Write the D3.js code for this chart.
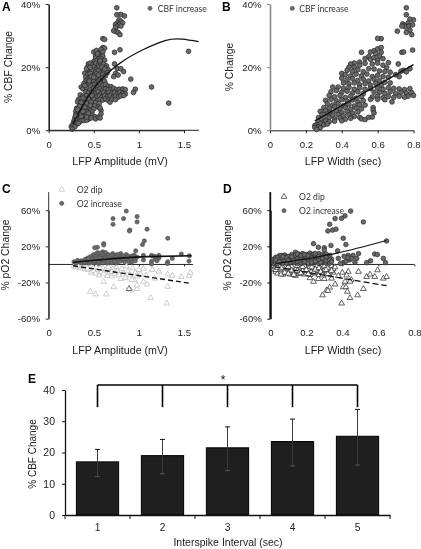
<!DOCTYPE html>
<html><head><meta charset="utf-8">
<style>
html,body{margin:0;padding:0;background:#fff}
svg{display:block;filter:blur(.35px)}
text{font-family:"Liberation Sans",Arial,sans-serif;fill:#222}
.leg{font-family:Lato,"Open Sans",sans-serif;font-size:8.6px;fill:#333}
.pl{font-weight:bold;font-size:12px;fill:#000}
</style></head><body>
<svg id="c" width="421" height="549"></svg>
<script src="https://cdn.jsdelivr.net/npm/d3@7/dist/d3.min.js"></script>
<script>
// ---------- values ----------
const cbfAmplitude=[[1.55,25],[1.33,8.6],[1.14,13.7],[.96,13],[.94,12],[.91,16.2],[.83,18.6],[.79,25.5],[.73,24.7],[.73,21],[.76,19.5],[.8,19.5],[.74,18],[.72,17],[.77,17.5],[.6,29],[.62,28.8],
[.755,38.8],[.755,36.6],[.8,36.7],[.84,36.2],[.78,35],[.8,34.5],[.82,34],[.76,34],[.78,33.5],[.74,33.5],[.76,33],[.8,33],[.74,32.5],[.72,31.5],[.75,31.2],[.77,31],[.79,30.3],
[.6,26.2],[.62,26],[.5,24.8],[.53,25.3],[.56,24.6],[.58,25.6],[.6,24.8],[.52,23.6],[.55,24],[.57,23.2],[.6,23.5],[.52,22.9],[.55,22.5],[.58,22.7],[.5,21.8],[.53,22],[.56,21.5],[.59,21.9],[.62,22.2],[.44,21],[.46,21.3],[.49,20.7],[.52,21.1],[.55,20.6],[.58,20.9],[.61,21],[.64,20.4],[.43,20],[.46,19.6],[.5,20.1],[.53,19.4],[.56,20],[.6,19.5],[.63,19.8],[.66,19.2],[.45,18.8],[.48,19.1],[.52,18.5],[.55,18.9],[.58,18.2],[.61,18.7],[.65,18.3],[.4,18.1],[.43,17.6],[.46,18],[.5,17.4],[.53,17.9],[.56,17.2],[.6,17.7],[.63,17.3],[.41,16.8],[.44,16.4],[.47,17],[.51,16.3],[.54,16.8],[.57,16.1],[.6,16.6],[.41,15.6],[.44,15.9],[.47,15.2],[.5,15.7],[.53,15.1],[.56,15.6],[.59,15],[.62,15.5],[.39,14.8],[.42,14.4],[.45,14.9],[.48,14.2],[.51,14.6],[.54,14.1],[.57,14.7],[.6,14.3],[.63,14.5],[.66,14],[.69,13.8],[.36,13.7],
[.38,13.1],[.42,13.4],[.46,12.9],[.5,13.3],[.54,12.8],[.57,13.2],[.6,12.7],[.63,13.1],[.66,12.9],[.69,13],[.72,13.3],[.75,12.8],[.78,13],[.82,13.1],[.85,12.9],[.41,12.2],[.44,11.8],[.48,12.1],[.52,11.7],[.55,12.2],[.58,11.6],[.61,12],[.64,11.5],[.67,12.1],[.7,11.7],[.73,12],[.76,11.6],[.79,12.1],[.82,11.7],[.85,11.5],[.35,11.2],[.38,10.8],[.42,11],[.45,10.6],[.49,11.1],[.53,10.5],[.56,10.9],[.59,10.4],[.62,11],[.65,10.6],[.68,10.9],[.71,10.4],[.74,10.8],[.77,10.5],[.8,10.9],[.83,11],[.33,9.8],[.36,10.1],[.39,9.6],[.42,9.9],[.46,9.5],[.5,9.9],[.54,9.4],[.57,9.8],[.6,9.6],[.63,9.9],[.66,9.5],[.7,9.8],[.74,9.7],[.68,8.9],
[.32,9],[.35,8.7],[.38,9.1],[.41,8.5],[.44,8.9],[.48,8.4],[.52,8.8],[.56,8.5],[.35,7.8],[.38,8],[.41,7.5],[.44,7.9],[.47,7.4],[.51,7.7],[.55,7.3],[.31,7],[.34,6.7],[.37,7.1],[.4,6.5],[.43,6.9],[.46,6.4],[.5,6.8],[.3,6],[.33,5.8],[.36,6.1],[.39,5.5],[.42,5.9],[.45,5.4],[.48,5.8],[.58,6.3],[.57,7.1],[.3,5],[.33,4.7],[.36,5.1],[.39,4.5],[.42,4.9],[.45,4.4],[.48,4.8],[.51,4.3],[.58,5.2],[.29,4],[.32,3.8],[.35,4.1],[.38,3.6],[.41,3.9],[.44,3.5],[.47,3.9],[.52,3.6],[.55,4.2],[.57,3.9],[.28,3],[.31,3.2],[.34,2.8],[.36,3],[.39,3.1],[.42,3.2],[.27,2.1],[.29,2.4],[.31,2],[.33,2.2],[.25,1.2],[.27,1.3],[.29,1.1],[.26,.4],
[.42,19.5],[.46,19.9],[.54,24.2],[.57,22],[.59,20],[.62,19.4],[.55,17.5],[.5,16.8],[.45,15.6],[.4,14.2],[.48,11],[.38,10.2],[.44,9.9],[.36,8.8],[.42,8.6],[.47,8.9],[.34,7.6],[.4,7.3],[.46,7.9],[.32,6.6],[.38,6],[.44,5.4],[.3,4.6],[.36,4.4],[.42,4.2]];
const cbfCurve=[[.27,2],[.5,13.3],[.787,21.2],[1.05,25.6],[1.3,28.5],[1.48,28.9],[1.663,28.1]];

const cbfWidth=[[.76,38.8],[.76,36.6],[.8,35],[.78,35.2],[.77,34],[.74,33.7],[.75,33.2],[.755,32.7],[.775,33],[.795,33.4],[.78,31.7],[.735,33],[.71,31.4],[.76,31],[.79,30.3],[.795,25.4],[.735,24.7],[.745,24.8],[.715,21],[.745,19],[.72,17],[.76,18.5],[.73,18.7],[.78,19.5],[.66,21.4],[.62,29],[.6,29.1],
[.51,24.7],[.55,23.3],[.56,24.8],[.58,25.2],[.6,25.8],[.62,26.2],[.59,24.3],[.62,24.7],[.61,23.5],[.53,22.7],[.56,22.5],[.58,23],[.6,22.2],[.63,22.7],[.5,21.6],[.47,21.3],[.45,21],[.44,20],[.47,20],[.5,20.6],[.53,21.2],[.57,21],[.6,21.3],[.63,20.6],[.65,19.8],[.43,19],[.46,18.7],[.49,19.2],[.52,18.6],[.55,19.5],[.58,19.4],[.61,18.8],[.64,18.6],[.67,18.4],[.7,17.6],[.4,18],[.42,17.6],[.45,17.2],[.48,17.8],[.51,17.2],[.54,17.8],[.57,17],[.6,17.4],[.63,17],[.66,16.8],[.4,16.5],[.43,16],[.46,16.4],[.49,15.8],[.52,16.2],[.55,15.6],[.58,16.2],[.61,15.7],[.64,15.2],[.67,15],[.35,13.7],[.41,15],[.44,14.7],[.47,15],[.5,14.4],[.53,14.8],[.56,14.3],[.59,14.9],[.62,14.2],[.38,13.7],[.41,13.3],[.44,13.6],[.47,13],[.5,13.5],[.53,13],[.56,13.2],[.6,13.4],[.63,13],[.66,13.5],[.69,13.3],[.72,13.1],[.75,12.9],[.78,13.2],
[.34,12.2],[.37,12.6],[.4,12],[.43,12.4],[.46,11.8],[.49,12.2],[.52,11.6],[.58,12.1],[.61,12],[.64,11.7],[.67,12.2],[.7,11.7],[.73,12],[.76,11.8],[.79,11.9],[.8,11],[.77,10.8],[.33,11],[.36,10.6],[.39,11],[.42,10.4],[.45,10.8],[.48,10.2],[.51,10.6],[.57,10.5],[.6,10.8],[.63,10.3],[.66,10.7],[.69,10.4],[.72,10.8],[.75,10.5],[.31,9.5],[.34,9.8],[.37,9.3],[.4,9.7],[.43,9.2],[.46,9.6],[.49,9],[.52,9.4],[.56,9.8],[.6,9.8],[.64,9.7],[.68,9],[.32,8.4],[.35,8],[.38,8.4],[.41,7.8],[.44,8.2],[.47,7.7],[.5,8.1],[.53,8],[.3,7.2],[.33,7],[.36,7.4],[.39,6.8],[.42,7.2],[.45,6.6],[.48,7],[.51,6.8],[.28,6],[.31,6.2],[.34,5.8],[.37,6.1],[.4,5.6],[.43,6],[.46,5.4],[.49,5.8],[.575,7.2],[.575,6.4],[.58,5.5],[.29,5],[.32,5.2],[.35,4.8],[.38,5],[.41,4.6],[.44,4.9],[.47,4.4],[.5,4.1],[.51,3.6],[.53,3.4],[.55,4.1],[.57,4.2],[.27,4],[.3,3.8],[.33,4.1],[.36,3.6],[.39,3.9],[.42,3.5],[.45,3.8],[.27,2.8],[.29,2.5],[.31,3],[.33,2.7],[.36,2.9],[.4,3],[.26,1.8],[.28,2.1],[.3,1.7],[.32,2],[.25,1.5],[.25,.9],[.27,1.1],[.28,.8],[.26,.3]];
const cbfWidthFit=[[.25,3],[.8,20.8]];

const o2IncAmplitude=[[.713,50.7],[.713,44.4],[.83,50.7],[.86,59],[.98,53],[.98,47],[.9,38],[.895,37],[1.09,39],[1.06,26],[1.04,22],[1.32,29],[.61,23],[.61,21.5],[.54,19],[.51,18.5],[.965,15],[1.47,11.5],[1.56,9.6],[1.555,3.7],[1.32,3],[1.315,1],[1.37,6.7],[1.22,10],[1.22,7],[1.2,4],[1.14,10],[1.14,3.5],[1.18,6],[1.05,10],[1.05,5],[1.14,.5],[1.22,8.5],[1.17,9],
[.28,3],[.3,1.5],[.32,4.5],[.34,2.5],[.36,4],[.37,1.5],[.39,3.5],[.4,5.5],[.42,2],[.43,7],[.44,4],[.45,1.5],[.46,8.5],[.47,5.5],[.48,3],[.49,10],[.5,7],[.5,2],[.52,11],[.52,5],[.53,8.5],[.54,13],[.54,3],[.55,10.5],[.56,6],[.57,12.5],[.57,1.5],[.58,9],[.59,4],[.6,14],[.6,7],[.62,10],[.62,2.5],[.64,8],[.65,4.5],[.66,11],[.68,6.5],[.7,2],[.71,12],[.72,9],[.74,5],[.75,10.5],[.76,2.5],[.78,8],[.8,12],[.8,5],[.82,9.5],[.84,3],[.85,7],[.86,11],[.88,5],[.9,9],[.92,2.5],[.94,6.5],[.95,10],[.98,8],[.5,11],[.55,1],[.63,13],[.68,9.5],[.74,1.5],[.58,5.5],[.46,3.5],[.4,2.5],[.33,3.5],[.65,1.5],[.72,6],[.6,11.5],[.56,8.5],[.48,6],[.52,9],[.44,6],
[.51,4],[.53,6.5],[.55,3.5],[.57,8],[.59,11],[.61,5],[.63,7],[.66,3],[.67,8.5],[.69,4],[.7,10],[.73,3],[.76,6],[.77,11],[.79,3.5],[.81,7],[.83,5.5],[.87,8.5],[.89,3],[.91,7],[.93,9.5],[.96,4],[.74,8]];
const o2DipAmplitude=[[.46,-30],[.52,-33],[.64,-33],[.72,-25],[.98,-27],[.98,-23],[1.13,-37],[1.31,-43],[1.32,-24.5],[1.09,-22],[1.05,-19],[.61,-19],[1.22,-8],[1.15,-6],[1.05,-4.5],[1.32,-11],[1.37,-12.6],[1.47,-13.7],[1.555,-12.6],[1.57,-9],[1.175,-15.5],[1.08,-12],[.95,-17],[.91,-28.5],
[.28,-2],[.3,-3],[.33,-1.5],[.35,-4],[.37,-2.5],[.4,-5],[.42,-3],[.44,-6],[.46,-1.5],[.47,-9],[.49,-4.5],[.5,-7],[.52,-10],[.53,-3],[.55,-6],[.56,-12],[.58,-8.5],[.6,-4],[.61,-10],[.63,-6.5],[.65,-12.5],[.66,-2.5],[.68,-9],[.7,-13],[.71,-5],[.73,-10.5],[.75,-3],[.76,-7.5],[.78,-12],[.8,-16],[.81,-5],[.83,-10],[.85,-15],[.86,-2],[.88,-7.5],[.9,-12],[.92,-17],[.93,-4],[.96,-9],[.98,-13],[1,-6],[1.02,-11],[.7,-8],[.57,-4],[.43,-4.5]];
const o2DipDark=[[.89,-27]];
const o2IncAmpFit=[[.27,2.2],[.5,4.6],[.8,7],[1.1,8.6],[1.58,9.6]];
const o2DipAmpFit=[[.27,-1.5],[1.58,-21]];

const o2IncWidth=[[.446,59],[.517,47],[.415,53.7],[.396,51],[.36,50.7],[.33,44.4],[.32,37],[.346,38],[.365,39],[.405,29],[.42,22],[.337,21],[.24,23],[.267,19],[.3,18.5],[.3,16],[.646,26],[.58,11.5],[.595,11],[.628,6.7],[.64,2],[.557,4],[.535,2],[.49,12],[.46,10],[.433,10],[.44,5],[.405,2],[.378,6.7],[.374,15],[.48,6.7],[.45,6.7],[.42,3.5],[.39,1],[.47,2.5],[.43,7.5],[.41,9],
[.02,1],[.02,3.5],[.02,6],[.03,2],[.03,8],[.04,4.5],[.04,1],[.05,6.5],[.05,9.5],[.06,3],[.06,7],[.07,1.5],[.07,5],[.08,10.5],[.08,8],[.09,3.5],[.1,6.5],[.1,1],[.11,9],[.11,4.5],[.12,11],[.12,2.5],[.13,7.5],[.14,13.5],[.14,5],[.15,1],[.15,9.5],[.16,11.5],[.16,3.5],[.17,7],[.18,12],[.18,1.5],[.19,9],[.19,5],[.2,11],[.2,3],[.21,7],[.22,12.5],[.22,1],[.23,9.5],[.23,5],[.24,11.5],[.24,2.5],[.25,7.5],[.26,10],[.26,4],[.27,12],[.27,1],[.28,8.5],[.28,5.5],[.29,11],[.29,3],[.3,9.5],[.3,6],[.31,1.5],[.31,11.5],[.32,8],[.32,4],[.33,10],[.33,1.5],[.34,6],[.04,7.5],[.06,10],[.08,5],[.1,9],[.12,6],[.13,2],[.14,10.5],[.16,8.5],[.17,2],[.18,6],[.2,8],[.21,4],[.22,9.5],[.24,6.5],[.25,10],[.26,7],[.28,2],[.09,7.5],[.11,2],[.15,6],
[.03,5],[.05,3],[.07,8.5],[.09,1.5],[.1,4.5],[.12,8.5],[.13,4],[.15,3.5],[.15,11.5],[.17,9.5],[.17,5],[.19,11],[.19,3],[.21,9.5],[.21,1.5],[.23,7],[.23,2.5],[.25,3.5],[.25,12],[.27,6],[.27,9],[.29,7],[.31,4],[.31,8.5],[.33,5],[.34,3]];
const o2DipWidth=[[.29,-34],[.313,-28.5],[.33,-25.5],[.36,-22],[.396,-43],[.405,-25],[.42,-25],[.428,-30],[.443,-37],[.485,-34],[.517,-27],[.45,-17],[.443,-19],[.415,-19],[.24,-19],[.267,-16],[.3,-16],[.34,-15.5],[.535,-13.7],[.554,-11],[.58,-13.7],[.596,-6.3],[.628,-15.5],[.646,-13.7],[.49,-8],[.433,-8],[.424,-12],[.378,-12.6],[.22,-15],[.32,-29],[.4,-9],[.35,-9],
[.02,-1.5],[.02,-5],[.03,-8],[.03,-3],[.04,-10],[.05,-5.5],[.05,-1.5],[.06,-8.5],[.07,-3.5],[.07,-11],[.08,-6.5],[.09,-9.5],[.09,-2],[.1,-5],[.11,-11],[.11,-7.5],[.12,-3],[.13,-9],[.14,-5.5],[.14,-12.5],[.15,-1.5],[.16,-8],[.16,-10.5],[.17,-4],[.18,-7],[.19,-11],[.19,-2],[.2,-9],[.21,-5.5],[.22,-11.5],[.22,-2.5],[.23,-7.5],[.24,-4],[.25,-10],[.26,-1.5],[.26,-7],[.27,-11.5],[.28,-4.5],[.29,-9],[.3,-2],[.3,-6.5],[.31,-11],[.32,-4],[.33,-8.5],[.34,-1.5],[.35,-5],[.36,-3],
[.03,-6],[.04,-3.5],[.06,-11],[.06,-4],[.08,-9],[.1,-2.5],[.1,-10],[.12,-6.5],[.13,-11.5],[.15,-7],[.17,-9.5],[.18,-2.5],[.2,-6],[.21,-10.5],[.23,-3],[.24,-9],[.25,-5.5],[.27,-4],[.28,-8],[.29,-12],[.31,-6],[.32,-10.5],[.34,-7]];
const o2IncWidthFit=[[.03,1],[.358,12],[.645,26.4]];
const o2DipWidthFit=[[.025,-2.6],[.646,-23.5]];

const intervals=[1,2,3,4,5];
const meanCbf=[17,19,21.5,23.5,25.2];
const errTop=[21,24.2,28.2,30.7,33.8];
const errBottom=[12.3,13.2,14.2,15.7,16];
const bracketTop=41.6, bracketDrop=34.5;

// ---------- drawing ----------
const svg=d3.select("#c");
const DOT="#696969", DOTS="#262626";
function linear(dom,rng){return d3.scaleLinear().domain(dom).range(rng);}
function txt(x,y,s,o={}){const t=svg.append("text").attr("x",x).attr("y",y).text(s);
  if(o.cls)t.attr("class",o.cls); if(o.size)t.style("font-size",o.size+"px"); if(o.anchor)t.attr("text-anchor",o.anchor);
  if(o.rot)t.attr("transform",`rotate(-90 ${x} ${y})`); return t;}
function dots(x,y,data,r,stroke){svg.append("g").selectAll("circle").data(data).join("circle")
  .attr("cx",d=>x(d[0])).attr("cy",d=>y(d[1])).attr("r",r).attr("fill",DOT).attr("stroke",stroke||"none").attr("stroke-width",.7);}
const tri=d3.symbol().type(d3.symbolTriangle).size(14);
function tris(x,y,data,col,sw){svg.append("g").selectAll("path").data(data).join("path").attr("d",tri)
  .attr("transform",d=>`translate(${x(d[0])},${y(d[1])})`).attr("fill","#fff").attr("stroke",col).attr("stroke-width",sw||.7);}
function fit(x,y,data,o={}){svg.append("path").attr("d",d3.line().x(d=>x(d[0])).y(d=>y(d[1])).curve(data.length>2?d3.curveNatural:d3.curveLinear)(data))
  .attr("fill","none").attr("stroke","#111").attr("stroke-width",o.w||1.3).attr("stroke-dasharray",o.dash||null);}
function axisStyle(g,col,w,fs){g.selectAll("path.domain").attr("stroke",col).attr("stroke-width",w);
  g.selectAll("line").attr("stroke",col).attr("stroke-width",Math.min(w,1));
  g.selectAll("text").style("font-size",fs+"px").style("fill","#222");}
const TICK=9.6;

// Panel A / B
const yCbf=linear([0,40],[130.3,4]);
const xA=linear([0,1.5],[48.7,184]);
function topPanel(x,data,xTicks,col,w){
  const ga=svg.append("g").attr("transform","translate(0,130.3)").call(d3.axisBottom(x).tickValues(xTicks).tickFormat(d=>d).tickSize(3).tickSizeOuter(0));
  axisStyle(ga,"#222",1,TICK); ga.selectAll("text").attr("y",11);
  const gy=svg.append("g").attr("transform",`translate(${x(0)},0)`).call(d3.axisLeft(yCbf).tickValues([0,20,40]).tickFormat(d=>d+"%").tickSize(3).tickPadding(5.5).tickSizeOuter(0));
  axisStyle(gy,col,w,TICK);
  dots(x,yCbf,data,2.4,DOTS);
}
topPanel(xA,cbfAmplitude,[0,.5,1,1.5],"#222",1.6);
fit(xA,yCbf,cbfCurve);
svg.append("line").attr("x1",xA(0)).attr("x2",xA(1.665)).attr("y1",yCbf(0)).attr("y2",yCbf(0)).attr("stroke","#222");
const xB=linear([0,.8],[270,413.5]);
topPanel(xB,cbfWidth,[0,.2,.4,.6,.8],"#888",1.6);
fit(xB,yCbf,cbfWidthFit);
// Panel C / D
const yO=linear([-60,60],[318.7,210.2]);
function midPanel(x,inc,dip,ticks,xEnd,axCol,axW,triCol,r,dotStroke){
  const ga=svg.append("g").attr("transform",`translate(0,${yO(0)})`).call(d3.axisBottom(x).tickValues(ticks).tickFormat(d=>d).tickSize(2).tickSizeOuter(0));
  axisStyle(ga,"#222",1,TICK); ga.selectAll("text").attr("y",64.5);
  ga.select("path.domain").remove();
  svg.append("line").attr("x1",x(0)).attr("x2",x(xEnd)).attr("y1",yO(0)).attr("y2",yO(0)).attr("stroke","#222");
  const gy=svg.append("g").attr("transform",`translate(${x(0)},0)`).call(d3.axisLeft(yO).tickValues([-60,-20,20,60]).tickFormat(d=>d+"%").tickSize(3).tickPadding(5.5).tickSizeOuter(0));
  axisStyle(gy,axCol,axW,TICK);
  svg.append("line").attr("x1",x(0)).attr("x2",x(0)).attr("y1",yO(-60)).attr("y2",yO(80)).attr("stroke",axCol).attr("stroke-width",axW);
  tris(x,yO,dip,triCol,.7);
  dots(x,yO,inc,r,dotStroke);
}
const xC=linear([0,1.5],[48.7,184]);
midPanel(xC,o2IncAmplitude,o2DipAmplitude,[0,.5,1,1.5],1.6,"#333",1,"#b9b9b9",2.1,"#555");
tris(xC,yO,o2DipDark,"#333",.7);
fit(xC,yO,o2IncAmpFit,{w:1.6});
fit(xC,yO,o2DipAmpFit,{w:1.4,dash:"5 3"});
const xD=linear([0,.8],[270.3,414.3]);
midPanel(xD,o2IncWidth,o2DipWidth,[0,.2,.4,.6,.8],.8,"#111",1.8,"#222",2.3,"#2c2c2c");
fit(xD,yO,o2IncWidthFit,{w:1.1});
fit(xD,yO,o2DipWidthFit,{w:1.3,dash:"6 3"});

// Panel E
const xE=d3.scaleBand().domain(intervals).range([65,390]).paddingInner(.35).paddingOuter(.175);
const yE=linear([0,40],[515,390]);
svg.append("g").selectAll("rect").data(intervals).join("rect")
 .attr("x",d=>xE(d)).attr("width",xE.bandwidth()).attr("y",(d,i)=>yE(meanCbf[i])).attr("height",(d,i)=>yE(0)-yE(meanCbf[i]))
 .attr("fill","#1f1f1f").attr("stroke","#000").attr("stroke-width",1);
const cx=d=>xE(d)+xE.bandwidth()/2;
const eb=svg.append("g").selectAll("g").data(intervals).join("g").attr("stroke","#111").attr("stroke-width",1);
eb.append("line").attr("x1",cx).attr("x2",cx).attr("y1",(d,i)=>yE(errTop[i])).attr("y2",(d,i)=>yE(errBottom[i])).attr("stroke","#3a3a3a");
eb.append("line").attr("x1",d=>cx(d)-2.5).attr("x2",d=>cx(d)+2.5).attr("y1",(d,i)=>yE(errTop[i])).attr("y2",(d,i)=>yE(errTop[i]));
eb.append("line").attr("x1",d=>cx(d)-2.5).attr("x2",d=>cx(d)+2.5).attr("y1",(d,i)=>yE(errBottom[i])).attr("y2",(d,i)=>yE(errBottom[i])).attr("stroke","#555");
const gyE=svg.append("g").attr("transform","translate(65,0)").call(d3.axisLeft(yE).tickValues([0,10,20,30,40]).tickSize(3).tickPadding(7).tickSizeOuter(0));
axisStyle(gyE,"#111",1.3,10.5);
const gxE=svg.append("g").attr("transform","translate(0,515)").call(d3.axisBottom(xE).tickSize(0));
axisStyle(gxE,"#111",1.3,10.2); gxE.selectAll("text").attr("y",9);
svg.append("g").selectAll("line").data(d3.range(6)).join("line").attr("x1",i=>65+i*xE.step()).attr("x2",i=>65+i*xE.step()).attr("y1",515).attr("y2",519).attr("stroke","#111");
// bracket
svg.append("line").attr("x1",cx(1)).attr("x2",cx(5)).attr("y1",yE(bracketTop)).attr("y2",yE(bracketTop)).attr("stroke","#000").attr("stroke-width",1.6);
svg.append("g").selectAll("line").data(intervals).join("line").attr("x1",cx).attr("x2",cx).attr("y1",yE(bracketTop)).attr("y2",yE(bracketDrop)).attr("stroke","#000").attr("stroke-width",1.6);
txt(223,384,"*",{size:13,anchor:"middle"});

// labels
txt(2,11,"A",{cls:"pl"}); txt(222,11,"B",{cls:"pl"}); txt(2,193,"C",{cls:"pl"}); txt(223,193,"D",{cls:"pl"}); txt(28,383,"E",{cls:"pl"});
txt(12,67,"% CBF Change",{size:10.4,anchor:"middle",rot:1});
txt(233,67,"% Change",{size:10.4,anchor:"middle",rot:1});
txt(9,255,"% pO2 Change",{size:10.4,anchor:"middle",rot:1});
txt(231,255,"% pO2 Change",{size:10.4,anchor:"middle",rot:1});
txt(120,165,"LFP Amplitude (mV)",{size:10.7,anchor:"middle"});
txt(343,165,"LFP Width (sec)",{size:10.7,anchor:"middle"});
txt(120,354,"LFP Amplitude (mV)",{size:10.7,anchor:"middle"});
txt(343,354,"LFP Width (sec)",{size:10.7,anchor:"middle"});
txt(228,546,"Interspike Interval (sec)",{size:10.5,anchor:"middle"});
txt(36,454,"% CBF Change",{size:10,anchor:"middle",rot:1});

// legends (positions in page px)
function legDot(x,y){svg.append("circle").attr("cx",x).attr("cy",y).attr("r",2.1).attr("fill",DOT).attr("stroke","#444").attr("stroke-width",.5);}
function legTri(x,y,c){svg.append("path").attr("d",tri).attr("transform",`translate(${x},${y})`).attr("fill","#fff").attr("stroke",c).attr("stroke-width",.7);}
legDot(150,8.3);txt(157.7,11.5,"CBF increase",{cls:"leg"});
legDot(292.3,8.3);txt(299.3,11.5,"CBF increase",{cls:"leg"});
legTri(61.7,189.5,"#bbb");txt(76.7,192.5,"O2 dip",{cls:"leg"});
legDot(61.7,203.3);txt(76.7,206.5,"O2 increase",{cls:"leg"});
legTri(284,196.7,"#222");txt(299,200,"O2 dip",{cls:"leg"});
legDot(284,210.7);txt(299,214,"O2 increase",{cls:"leg"});
</script>
</body></html>
